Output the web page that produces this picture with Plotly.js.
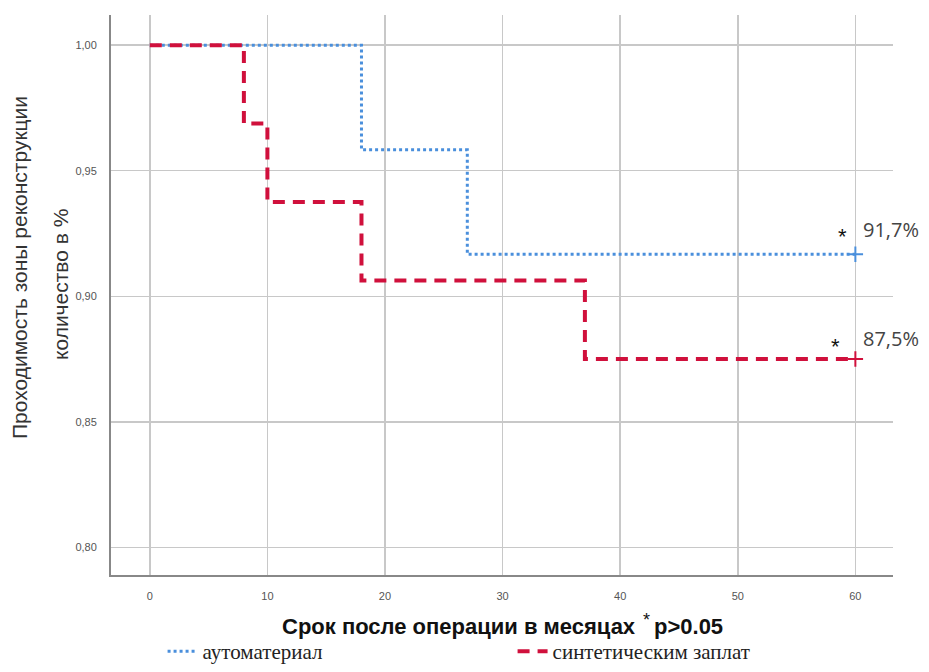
<!DOCTYPE html>
<html>
<head>
<meta charset="utf-8">
<script src="https://cdn.plot.ly/plotly-3.0.1.min.js"></script>
<style>
  html, body { margin: 0; padding: 0; background: #ffffff; }
  #chart { width: 929px; height: 672px; }
</style>
</head>
<body>
<div id="chart"></div>
<script>
// Kaplan–Meier step curves: event times (months) and cumulative patency
const autoTimes = [0, 18, 27, 60];
const autoSurv = [1.0, 0.9583, 0.9167, 0.9167];
const synthTimes = [0, 8, 10, 18, 37, 60];
const synthSurv = [1.0, 0.96875, 0.9375, 0.90625, 0.875, 0.875];

// censored observations at end of follow-up
const autoCensorT = [60];
const autoCensorS = [0.9167];
const synthCensorT = [60];
const synthCensorS = [0.875];

const seriesNames = ['аутоматериал', 'синтетическим заплат'];
const endLabels = ['91,7%', '87,5%'];

const xTicks = [0, 10, 20, 30, 40, 50, 60];
const yTicks = [0.80, 0.85, 0.90, 0.95, 1.00];

const blue = '#4a8fdc';
const red = '#d0103c';

const traces = [
  {
    x: autoTimes, y: autoSurv, name: seriesNames[0],
    mode: 'lines', line: { shape: 'hv', color: blue, width: 3, dash: 'dot' }
  },
  {
    x: synthTimes, y: synthSurv, name: seriesNames[1],
    mode: 'lines', line: { shape: 'hv', color: red, width: 4, dash: '12px,8px' }
  },
  {
    x: autoCensorT, y: autoCensorS, mode: 'markers', showlegend: false,
    marker: { symbol: 'cross-thin', size: 11, line: { color: blue, width: 2 } }
  },
  {
    x: synthCensorT, y: synthCensorS, mode: 'markers', showlegend: false,
    marker: { symbol: 'cross-thin', size: 11, line: { color: red, width: 2 } }
  }
];

const labelFont = { family: 'Open Sans, Liberation Sans, sans-serif', size: 20, color: '#444' };
const starFont = { family: 'Liberation Sans, sans-serif', size: 22, color: '#111' };
const titleFont = { family: 'Liberation Sans, Arial, sans-serif', size: 21, color: '#333' };
const xTitleFont = { family: 'Liberation Sans, Arial, sans-serif', size: 22, color: '#111' };

const annotations = [
  // end-of-curve labels with significance marks
  { x: autoCensorT[0], y: autoCensorS[0], xref: 'x', yref: 'y', text: endLabels[0],
    showarrow: false, xanchor: 'left', yanchor: 'middle', xshift: 6, yshift: 25, font: labelFont },
  { x: autoCensorT[0], y: autoCensorS[0], xref: 'x', yref: 'y', text: '*',
    showarrow: false, xanchor: 'center', yanchor: 'middle', xshift: -13, yshift: 18, font: starFont },
  { x: synthCensorT[0], y: synthCensorS[0], xref: 'x', yref: 'y', text: endLabels[1],
    showarrow: false, xanchor: 'left', yanchor: 'middle', xshift: 6, yshift: 21, font: labelFont },
  { x: synthCensorT[0], y: synthCensorS[0], xref: 'x', yref: 'y', text: '*',
    showarrow: false, xanchor: 'center', yanchor: 'middle', xshift: -20, yshift: 13, font: starFont },
  // y-axis title, two lines
  { x: 0, y: 0.5, xref: 'paper', yref: 'paper', xshift: -92, yshift: 27,
    text: 'Проходимость зоны реконструкции', textangle: -90, showarrow: false,
    xanchor: 'center', yanchor: 'middle', font: titleFont },
  { x: 0, y: 0.5, xref: 'paper', yref: 'paper', xshift: -51, yshift: 10,
    text: 'количество в %', textangle: -90, showarrow: false,
    xanchor: 'center', yanchor: 'middle', font: titleFont },
  // x-axis title in two pieces with a raised significance mark before "p"
  { x: 0.5, y: 0, xref: 'paper', yref: 'paper', yshift: -51, xshift: 136,
    text: '<b>Срок после операции в месяцах</b>', showarrow: false,
    xanchor: 'right', yanchor: 'middle', font: xTitleFont },
  { x: 0.5, y: 0, xref: 'paper', yref: 'paper', yshift: -45, xshift: 144,
    text: '*', showarrow: false, xanchor: 'center', yanchor: 'middle',
    font: { family: 'Liberation Sans, Arial, sans-serif', size: 18, color: '#111' } },
  { x: 0.5, y: 0, xref: 'paper', yref: 'paper', yshift: -51, xshift: 150,
    text: '<b>p>0.05</b>', showarrow: false,
    xanchor: 'left', yanchor: 'middle', font: xTitleFont }
];

const layout = {
  width: 929, height: 672,
  margin: { l: 111, r: 36, t: 15, b: 97 },
  paper_bgcolor: '#ffffff', plot_bgcolor: '#ffffff',
  separators: ', ',
  showlegend: true,
  legend: {
    orientation: 'h', xref: 'container', yref: 'container',
    x: 0.175, xanchor: 'left', y: 0.0, yanchor: 'bottom',
    entrywidth: 305, entrywidthmode: 'pixels',
    font: { family: 'Liberation Serif, Times New Roman, serif', size: 21, color: '#222' },
    bgcolor: 'rgba(0,0,0,0)'
  },
  xaxis: {
    range: [-3.3, 63.2], tickvals: xTicks, ticktext: xTicks.map(String),
    showgrid: true, gridcolor: '#c8c8c8', gridwidth: 1.5,
    showline: true, linecolor: '#888', linewidth: 2, zeroline: false,
    ticks: '', ticklabelstandoff: 10,
    tickfont: { family: 'Liberation Sans, Arial, sans-serif', size: 11, color: '#555' },
    fixedrange: true
  },
  yaxis: {
    range: [0.789, 1.012], tickvals: yTicks, tickformat: '.2f',
    showgrid: true, gridcolor: '#c8c8c8', gridwidth: 1.5,
    showline: true, linecolor: '#888', linewidth: 2, zeroline: false,
    ticks: '', ticklabelstandoff: 10,
    tickfont: { family: 'Liberation Sans, Arial, sans-serif', size: 11, color: '#555' },
    fixedrange: true
  },
  annotations: annotations
};

Plotly.newPlot('chart', traces, layout, { displayModeBar: false, staticPlot: true });
</script>
</body>
</html>
